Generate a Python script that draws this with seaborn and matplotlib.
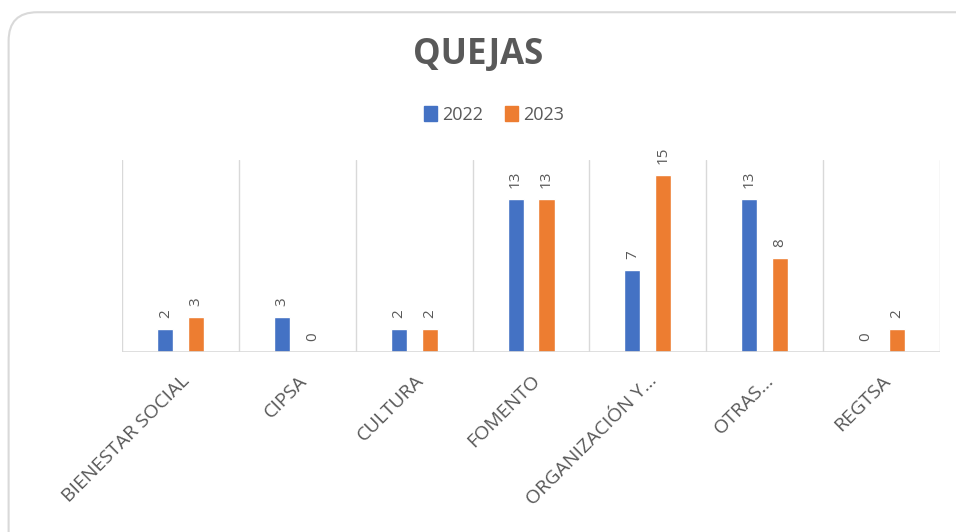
import pandas as pd
import matplotlib.pyplot as plt
import seaborn as sns
from matplotlib.patches import FancyBboxPatch

categories = ['BIENESTAR SOCIAL', 'CIPSA', 'CULTURA', 'FOMENTO',
              'ORGANIZACIÓN Y...', 'OTRAS...', 'REGTSA']
years = ['2022', '2023']
values_2022 = [2, 3, 2, 13, 7, 13, 0]
values_2023 = [3, 0, 2, 13, 15, 8, 2]

df = pd.DataFrame({
    'Area': categories * 2,
    'Year': [years[0]] * len(categories) + [years[1]] * len(categories),
    'Quejas': values_2022 + values_2023,
})

sns.set_style('white')
plt.rcParams['font.family'] = ['Open Sans', 'DejaVu Sans']

fig = plt.figure(figsize=(9.56, 5.32), dpi=100)
ax = fig.add_axes([0.128, 0.338, 0.855, 0.361])

# rounded frame of the chart (runs off the right and bottom edges)
frame = FancyBboxPatch((0.009, -0.06), 1.05, 1.037, boxstyle='round,pad=0,rounding_size=0.03',
                       transform=fig.transFigure, fill=False, edgecolor='#d9d9d9', linewidth=1.5,
                       mutation_aspect=956 / 532)
fig.patches.append(frame)

palette = {'2022': '#4472c4', '2023': '#ed7d31'}
sns.barplot(data=df, x='Area', y='Quejas', hue='Year', palette=palette, saturation=1,
            width=0.53, gap=0.48, ax=ax, legend=False)

for cont in ax.containers:
    ax.bar_label(cont, labels=[f'{v:g}' for v in cont.datavalues], rotation=90,
                 padding=8, color='#595959', fontsize=11)

ax.set_xlim(-0.5, len(categories) - 0.5)
ax.set_ylim(0, 16.3)
for x in range(len(categories) + 1):
    ax.axvline(x - 0.5, color='#d9d9d9', linewidth=1, zorder=0)
ax.axhline(0, color='#d9d9d9', linewidth=1.2)
for s in ax.spines.values():
    s.set_visible(False)
ax.set_yticks([])
ax.set_xlabel('')
ax.set_ylabel('')
ax.tick_params(axis='x', length=0, pad=14)
ax.set_xticks(range(len(categories)))
ax.set_xticklabels(categories, rotation=45, ha='right', rotation_mode='anchor',
                   color='#595959', fontsize=14)

fig.text(0.5, 0.897, 'QUEJAS', ha='center', va='center', fontsize=25,
         fontweight='bold', color='#595959')
handles = [plt.Rectangle((0, 0), 1, 1, color=palette[y]) for y in years]
fig.legend(handles, years, loc='center', bbox_to_anchor=(0.517, 0.784), ncol=2,
           frameon=False, fontsize=13, handlelength=0.7, handleheight=0.9,
           handletextpad=0.3, columnspacing=1.2, labelcolor='#595959')

fig.savefig('out.png', dpi=100)
